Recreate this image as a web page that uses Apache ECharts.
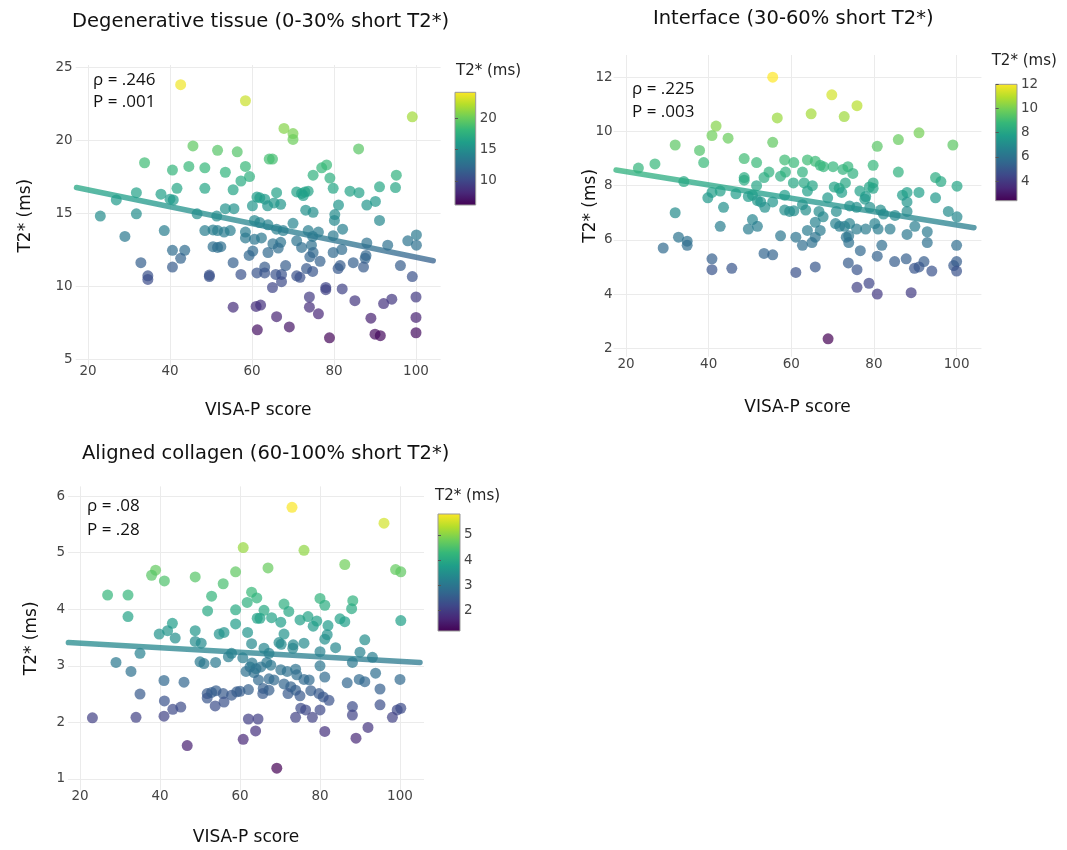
<!DOCTYPE html>
<html><head><meta charset="utf-8">
<script src="https://cdn.jsdelivr.net/npm/echarts@6/dist/echarts.min.js"></script>
<style>html,body{margin:0;padding:0;background:#fff}#c{width:1067px;height:850px}</style>
</head><body><div id="c"></div>
<script>
// ---- Panel 1: Degenerative tissue (0-30% short T2*) ----
const visa1 = [42.6,58.4,45.6,51.6,56.4,33.8,40.6,44.6,48.5,58.4,53.5,59.4,57.3,41.7,48.5,55.4,31.8,37.8,26.9,40.0,40.8,61.2,60.1,23.0,31.8,46.6,53.5,55.6,51.4,60.6,38.6,48.5,50.5,51.6,53.2,54.7,58.4,58.4,29.0,50.5,51.6,52.4,60.6,40.6,43.6,42.6,60.2,59.3,32.9,55.4,40.6,34.6,34.6,49.6,49.6,57.3,61.2,55.4,61.0,61.3,
  99.1,67.8,70.0,70.0,86.0,64.2,65.0,77.0,78.2,74.9,79.0,79.8,95.2,95.0,91.1,83.9,86.1,70.9,72.1,72.9,73.7,72.5,66.0,61.9,63.1,65.4,67.0,63.8,81.1,88.0,90.1,73.1,74.9,80.2,80.1,91.1,70.0,61.9,63.9,82.1,66.0,67.6,73.7,76.2,62.3,79.8,70.9,74.8,98.0,100.1,100.1,67.0,65.1,66.4,88.0,93.1,72.1,74.5,74.9,74.1,76.6,79.8,81.9,84.7,87.6,87.8,87.2,96.2,63.9,63.1,63.1,65.8,67.2,68.2,70.9,71.7,73.3,74.8,81.0,81.5,67.2,65.0,78.0,78.0,82.0,99.1,62.1,74.0,74.0,76.2,85.1,92.1,94.1,100.0,100.0,66.0,69.1,78.9,89.0,90.0,91.3,100.0];
const t2s1 = [23.8,22.7,19.6,19.3,19.2,18.45,17.95,18.2,18.1,18.2,17.8,17.5,17.2,16.7,16.7,16.6,16.4,16.3,15.9,15.95,15.9,16.1,15.5,14.8,14.95,14.95,15.3,15.3,14.8,14.5,13.8,13.8,13.85,13.8,13.7,13.8,13.7,13.3,13.4,12.7,12.65,12.7,13.2,12.45,12.45,11.9,12.4,12.1,11.6,11.6,11.3,10.7,10.45,10.75,10.65,10.8,10.9,8.55,8.6,7.0,
  21.6,20.8,20.45,20.05,19.4,18.7,18.7,18.1,18.3,17.6,17.4,16.7,17.6,16.75,16.8,16.5,16.4,16.45,16.35,16.45,16.5,16.2,16.4,16.05,15.95,15.7,15.6,15.5,15.55,15.55,15.8,15.2,15.05,14.9,14.5,14.5,14.3,14.35,14.2,13.9,13.9,13.8,13.8,13.7,13.3,13.45,13.1,13.4,13.1,13.5,12.8,13.0,12.9,12.6,12.95,12.8,12.65,12.8,12.3,12.0,11.7,12.3,12.5,11.6,11.9,12.1,11.3,11.4,12.3,11.3,10.9,10.8,10.8,11.4,10.7,10.6,11.2,11.0,11.2,11.4,10.3,9.9,9.9,9.75,9.8,10.65,8.7,9.25,8.55,8.1,9.0,8.8,9.1,9.25,7.85,7.9,7.2,6.45,7.8,6.7,6.6,6.8];
const trend1X = [17.2, 104.2];
const trend1Y = [16.75, 11.73];
const stat1 = ['ρ = .246', 'P = .001'];

// ---- Panel 2: Interface (30-60% short T2*) ----
const visa2 = [55.5,56.6,41.8,40.8,44.7,31.9,55.5,37.8,38.8,27.0,23.0,48.6,51.6,58.4,60.6,54.6,53.4,48.6,48.6,51.6,57.4,58.6,60.5,34.0,40.8,39.8,42.8,46.6,49.6,50.6,51.8,52.6,53.6,55.5,58.4,43.6,31.9,58.4,59.6,60.6,50.6,51.8,49.6,42.8,32.7,34.8,34.8,29.0,57.4,61.1,53.4,55.5,40.8,40.8,45.6,61.1,
  69.8,64.8,72.8,75.9,90.9,85.9,80.8,99.1,63.9,65.8,67.0,67.8,70.1,62.7,72.5,73.7,74.9,79.8,85.9,94.9,96.2,100.1,63.1,65.1,63.9,70.4,71.6,72.2,73.1,76.6,78.9,79.8,79.8,78.0,77.8,86.9,88.0,88.0,90.9,94.9,68.8,62.7,63.5,66.7,67.7,70.9,74.1,75.8,79.0,81.6,82.3,85.1,88.0,98.0,100.1,65.8,70.7,71.7,72.9,74.1,75.8,78.0,80.2,81.0,83.9,89.9,92.9,92.9,88.0,63.9,65.8,67.0,62.7,65.0,73.3,73.9,73.9,81.9,76.7,80.8,100.0,73.8,75.9,85.0,87.8,92.1,90.9,89.8,94.0,99.3,100.0,100.0,65.8,75.9,78.8,80.8,89.0,68.9];
const t2s2 = [12.0,10.5,10.2,9.85,9.75,9.5,9.6,9.3,8.85,8.8,8.65,9.0,8.85,8.95,8.85,8.5,8.3,8.3,8.2,8.0,8.35,8.5,8.1,8.15,7.75,7.55,7.8,7.7,7.6,7.65,7.45,7.4,7.2,7.4,7.65,7.2,7.0,7.1,7.05,7.07,6.75,6.5,6.4,6.5,6.1,5.95,5.8,5.7,6.15,6.1,5.5,5.45,5.3,4.9,4.95,4.8,
  11.35,10.65,10.55,10.95,9.95,9.7,9.45,9.5,8.95,8.9,8.75,8.7,8.7,8.5,8.6,8.7,8.45,8.75,8.5,8.3,8.15,7.98,8.1,8.0,7.8,7.95,7.9,7.75,8.1,7.8,7.95,8.1,7.9,7.6,7.5,7.65,7.75,7.4,7.75,7.55,7.55,7.3,7.1,7.05,6.85,7.05,7.25,7.2,7.2,7.1,6.95,6.9,7.05,7.05,6.85,6.65,6.6,6.5,6.5,6.6,6.4,6.4,6.6,6.4,6.4,6.5,6.3,5.9,6.2,6.35,6.1,6.35,5.8,5.9,6.1,6.15,5.9,5.8,5.6,5.4,5.8,5.15,4.9,5.2,5.3,5.2,5.0,4.95,4.85,5.05,5.2,4.85,5.0,4.25,4.4,4.0,4.05,2.35];
const trend2X = [17.6, 104.2];
const trend2Y = [8.58, 6.45];
const stat2 = ['ρ = .225', 'P = .003'];

// ---- Panel 3: Aligned collagen (60-100% short T2*) ----
const visa3 = [60.8,38.9,37.9,41.1,48.8,58.9,55.8,26.9,32.0,52.9,62.9,61.8,64.2,51.9,58.9,64.3,32.0,43.1,41.9,39.8,43.8,48.8,48.8,50.3,58.9,54.8,56.0,61.9,62.9,35.0,29.0,32.75,50.0,51.0,53.9,57.1,57.9,60.7,62.5,63.5,64.6,46.0,41.0,35.0,41.1,43.2,45.2,51.8,51.8,52.9,53.8,54.0,55.8,56.0,57.9,59.2,60.0,62.1,23.1,34.0,41.0,62.1,63.9,60.8,46.8,63.0,64.0,61.5,
  73.0,96.0,76.0,67.0,86.2,98.9,100.2,80.0,81.2,71.0,88.2,87.9,66.0,65.0,72.2,67.9,70.2,75.0,77.0,78.3,79.2,82.0,81.2,81.8,85.0,86.2,100.2,71.0,69.75,70.3,73.3,76.0,73.2,80.0,83.9,91.2,90.0,93.1,66.0,67.25,88.1,66.7,67.7,65.2,70.2,71.8,73.9,74.2,76.0,77.3,80.0,81.2,86.8,89.8,91.2,93.9,95.0,100.0,67.25,68.5,65.8,65.7,67.25,71.0,72.7,72.0,73.9,75.0,77.7,79.75,80.8,82.25,75.2,76.4,73.9,78.1,80.0,88.1,88.1,95.0,99.3,100.2,98.1,81.2,92.0,89.0,64.5,69.2];
const t2s3 = [5.09,4.69,4.6,4.5,4.57,4.66,4.45,4.25,4.25,4.23,4.3,4.12,4.2,3.97,3.99,3.84,3.87,3.75,3.62,3.56,3.49,3.62,3.43,3.4,3.74,3.56,3.59,3.59,3.39,3.22,3.06,2.9,3.07,3.04,3.06,3.16,3.22,3.14,2.98,2.88,2.75,2.71,2.74,2.5,2.38,2.23,2.27,2.51,2.43,2.53,2.29,2.56,2.51,2.36,2.48,2.54,2.55,2.58,2.08,2.09,2.11,2.06,1.85,1.7,1.59,3.05,2.95,2.9,
  5.8,5.52,5.04,4.73,4.79,4.7,4.66,4.19,4.07,4.09,4.15,4.01,3.98,3.84,3.96,3.85,3.77,3.81,3.87,3.7,3.79,3.71,3.47,3.55,3.83,3.78,3.8,3.56,3.41,3.38,3.37,3.4,3.31,3.25,3.32,3.46,3.24,3.15,3.31,3.22,3.06,3.06,3.01,2.98,2.93,2.9,2.94,2.84,2.76,2.75,3.0,2.8,2.7,2.76,2.72,2.87,2.59,2.76,2.77,2.75,2.6,2.51,2.57,2.68,2.63,2.51,2.57,2.47,2.56,2.51,2.45,2.39,2.25,2.22,2.09,2.09,2.22,2.28,2.13,2.31,2.22,2.25,2.09,1.84,1.91,1.72,2.06,1.19];
const trend3X = [17.1, 105.0];
const trend3Y = [3.41, 3.06];
const stat3 = ['ρ = .08', 'P = .28'];

// ---- tick labels / colour scale ----
const xTicks = [20, 40, 60, 80, 100];
const yTicks1 = [5, 10, 15, 20, 25];
const yTicks2 = [2, 4, 6, 8, 10, 12];
const yTicks3 = [1, 2, 3, 4, 5, 6];
const cbTicks1 = [10, 15, 20];
const cbTicks2 = [4, 6, 8, 10, 12];
const cbTicks3 = [2, 3, 4, 5];
const cbRange1 = [6.17, 24.15];
const cbRange2 = [2.38, 12.0];
const cbRange3 = [1.19, 5.83];
const viridis = ['#440154','#482878','#3e4989','#31688e','#26828e','#1f9e89','#35b779','#6ece58','#b5de2b','#fde725'];
const titles = ['Degenerative tissue (0-30% short T2*)', 'Interface (30-60% short T2*)', 'Aligned collagen (60-100% short T2*)'];
const xName = 'VISA-P score';
const yName = 'T2* (ms)';

const FONT = '"DejaVu Sans", sans-serif';
const zip = (a, b) => a.map((v, i) => [v, b[i]]);

const panels = [
  {grid:{left:75.7, top:65, width:364.9, height:301.3}, y:[4.5,25.15], yt:yTicks1, yGap:42, xGap:36, xm:-2, ym:3,
   vx:visa1, vy:t2s1, tx:trend1X, ty:trend1Y, cb:{left:455, top:92.3, width:20.7, height:112.7}, cr:cbRange1, ct:cbTicks1},
  {grid:{left:613.6, top:55, width:367.8, height:301.7}, y:[1.69,12.82], yt:yTicks2, yGap:15, xGap:42, xm:1, ym:1,
   vx:visa2, vy:t2s2, tx:trend2X, ty:trend2Y, cb:{left:995.7, top:84.3, width:21.3, height:116.4}, cr:cbRange2, ct:cbTicks2},
  {grid:{left:68, top:486.4, width:356, height:303.9}, y:[0.8,6.17], yt:yTicks3, yGap:28, xGap:39, xm:-1, ym:3,
   vx:visa3, vy:t2s3, tx:trend3X, ty:trend3Y, cb:{left:438, top:514, width:22, height:117}, cr:cbRange3, ct:cbTicks3}
];

const grids = [], xAxes = [], yAxes = [], series = [], vms = [];
const labelStyle = {color:'#444', fontFamily:FONT, fontSize:13.5};
panels.forEach((p, i) => {
  grids.push(p.grid);
  xAxes.push({type:'value', gridIndex:i, min:17, max:106,
    name:xName, nameLocation:'middle', nameGap:p.xGap, nameMoveOverlap:false,
    nameTextStyle:{color:'#111', fontFamily:FONT, fontSize:17},
    axisLine:{show:false}, axisTick:{show:false, customValues:xTicks},
    axisLabel:Object.assign({customValues:xTicks, margin:p.xm}, labelStyle),
    splitLine:{show:true, lineStyle:{color:'#ebebeb', width:1}}});
  yAxes.push({type:'value', gridIndex:i, min:p.y[0], max:p.y[1],
    name:yName, nameLocation:'middle', nameGap:p.yGap, nameRotate:90, nameMoveOverlap:false,
    nameTextStyle:{color:'#111', fontFamily:FONT, fontSize:17},
    axisLine:{show:false}, axisTick:{show:false, customValues:p.yt},
    axisLabel:Object.assign({customValues:p.yt, margin:p.ym}, labelStyle),
    splitLine:{show:true, lineStyle:{color:'#ebebeb', width:1}}});
});
panels.forEach((p, i) => {
  const stops = viridis.slice().reverse().map((c, k) => ({offset:k/(viridis.length-1), color:c}));
  grids.push(Object.assign({show:true, borderColor:'#999', borderWidth:1,
    backgroundColor:new echarts.graphic.LinearGradient(0,0,0,1,stops)}, p.cb));
  xAxes.push({type:'value', gridIndex:3+i, show:false, min:0, max:1});
  yAxes.push({type:'value', gridIndex:3+i, position:'right', min:p.cr[0], max:p.cr[1],
    axisLine:{show:false}, splitLine:{show:false},
    axisTick:{show:true, length:3, customValues:p.ct, lineStyle:{color:'#555'}},
    axisLabel:Object.assign({customValues:p.ct, margin:4}, labelStyle)});
});
panels.forEach((p, i) => {
  series.push({type:'scatter', xAxisIndex:i, yAxisIndex:i, symbolSize:11,
    itemStyle:{opacity:0.7}, data:zip(p.vx, p.vy), silent:true});
  series.push({type:'line', xAxisIndex:i, yAxisIndex:i, showSymbol:false, symbol:'none',
    lineStyle:{width:5.5, opacity:0.75, cap:'round'}, data:zip(p.tx, p.ty), silent:true, z:3});
  vms.push({type:'continuous', show:false, min:p.cr[0], max:p.cr[1], dimension:1,
    seriesIndex:[2*i, 2*i+1], inRange:{color:viridis}});
});

function txt(s, x, y, size, family, color) {
  return {type:'text', x:x, y:y, silent:true,
    style:{text:s, font:size + 'px ' + family, fill:color, textVerticalAlign:'middle', verticalAlign:'middle', textAlign:'left', align:'left'}};
}
const ANN = '"Open Sans", sans-serif';
const graphics = [
  txt(titles[0], 72, 21.5, 19.5, FONT, '#111'),
  txt(titles[1], 653, 19, 19.5, FONT, '#111'),
  txt(titles[2], 82, 454, 19.5, FONT, '#111'),
  txt(yName, 456, 70.8, 15, FONT, '#222'),
  txt(yName, 991.7, 61.3, 15, FONT, '#222'),
  txt(yName, 435, 496, 15, FONT, '#222'),
  txt(stat1[0], 93, 80, 17, ANN, '#111'),
  txt(stat1[1], 93, 102, 17, ANN, '#111'),
  txt(stat2[0], 632, 89.5, 17, ANN, '#111'),
  txt(stat2[1], 632, 111.7, 17, ANN, '#111'),
  txt(stat3[0], 87, 506.5, 17, ANN, '#111'),
  txt(stat3[1], 87, 530, 17, ANN, '#111')
];

const chart = echarts.init(document.getElementById('c'), null, {renderer:'canvas'});
chart.setOption({
  backgroundColor:'#fff', animation:false,
  grid:grids, xAxis:xAxes, yAxis:yAxes, visualMap:vms, series:series, graphic:graphics
});
</script></body></html>
